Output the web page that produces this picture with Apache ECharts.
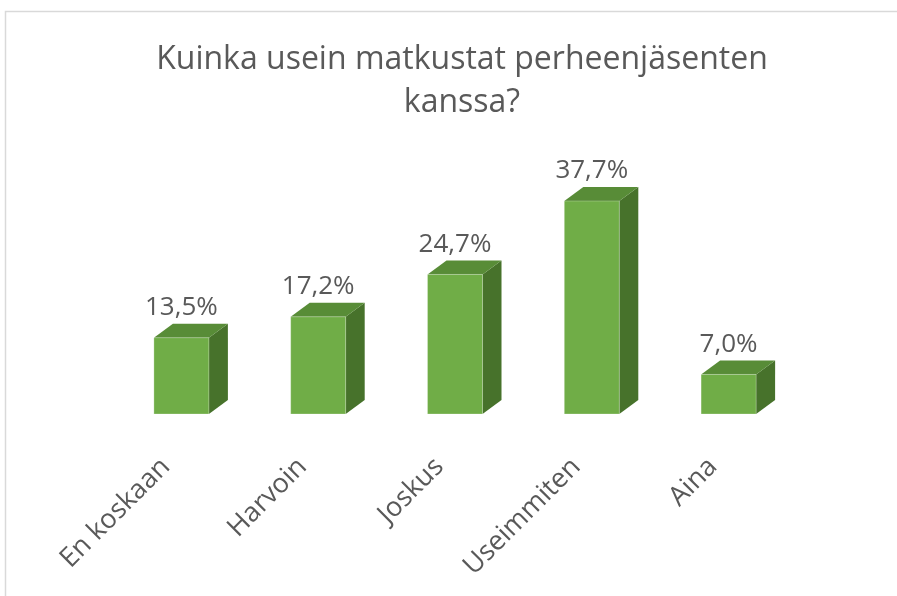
<!DOCTYPE html>
<html>
<head>
<meta charset="utf-8">
<script src="https://cdn.jsdelivr.net/npm/echarts@6/dist/echarts.min.js"></script>
<style>
  html, body { margin: 0; padding: 0; background: #fff; }
  #chart { width: 897px; height: 596px; }
</style>
</head>
<body>
<div id="chart"></div>
<script>
// Kuinka usein matkustat perheenjäsenten kanssa? - 3D-pylväät custom-sarjalla

const categories = ['En koskaan', 'Harvoin', 'Joskus', 'Useimmiten', 'Aina'];
const percentages = [13.5, 17.2, 24.7, 37.7, 7.0];

const FRONT = '#70AD47';
const TOP = '#588C37';
const SIDE = '#47722B';
const TEXT = '#595959';
const FONT = '"Open Sans", "Noto Sans", sans-serif';

const chart = echarts.init(document.getElementById('chart'));

function fmt(v) {
    return v.toFixed(1).replace('.', ',') + '%';
}

function renderBar(params, api) {
    const base = api.coord([api.value(0), 0]);
    const top = api.coord([api.value(0), api.value(1)]);
    const w = 55, dx = 19, dy = 14;
    const x0 = top[0] - w / 2;
    const yT = top[1], yB = base[1];
    return {
        type: 'group',
        children: [
            {
                type: 'polygon',
                shape: { points: [[x0 + w, yT], [x0 + w + dx, yT - dy], [x0 + w + dx, yB - dy], [x0 + w, yB]] },
                style: { fill: SIDE }
            },
            {
                type: 'polygon',
                shape: { points: [[x0, yT], [x0 + dx, yT - dy], [x0 + w + dx, yT - dy], [x0 + w, yT]] },
                style: { fill: TOP }
            },
            {
                type: 'rect',
                shape: { x: x0, y: yT, width: w, height: yB - yT },
                style: { fill: FRONT, stroke: 'rgba(255,255,255,0.25)', lineWidth: 1 }
            },
            {
                type: 'text',
                x: top[0],
                y: yT - 30,
                style: {
                    text: fmt(api.value(1)),
                    fill: TEXT,
                    font: '26px ' + FONT,
                    align: 'center',
                    verticalAlign: 'middle'
                }
            }
        ]
    };
}

const option = {
    backgroundColor: '#fff',
    animation: false,
    title: {
        text: 'Kuinka usein matkustat perheenjäsenten\nkanssa?',
        left: 457,
        top: 33,
        textAlign: 'center',
        textStyle: {
            fontFamily: FONT,
            fontSize: 32,
            fontWeight: 'normal',
            color: TEXT,
            lineHeight: 43
        }
    },
    graphic: [{
        type: 'rect',
        shape: { x: 5.5, y: 11.5, width: 1000, height: 1000 },
        style: { fill: 'none', stroke: '#D9D9D9', lineWidth: 1.5 },
        silent: true
    }],
    grid: { left: 113, right: 100, top: 188, bottom: 182 },
    xAxis: {
        type: 'category',
        data: categories,
        axisLine: { show: false },
        axisTick: { show: false },
        axisLabel: {
            rotate: 45,
            margin: 33,
            interval: 0,
            padding: [0, 22, 0, 0],
            color: TEXT,
            fontFamily: FONT,
            fontSize: 27
        }
    },
    yAxis: {
        type: 'value',
        min: 0,
        max: 40,
        show: false,
        splitLine: { show: false }
    },
    series: [{
        type: 'custom',
        renderItem: renderBar,
        clip: false,
        data: percentages.map((v, i) => [i, v])
    }]
};

chart.setOption(option);
window.addEventListener('resize', () => chart.resize());
</script>
</body>
</html>
